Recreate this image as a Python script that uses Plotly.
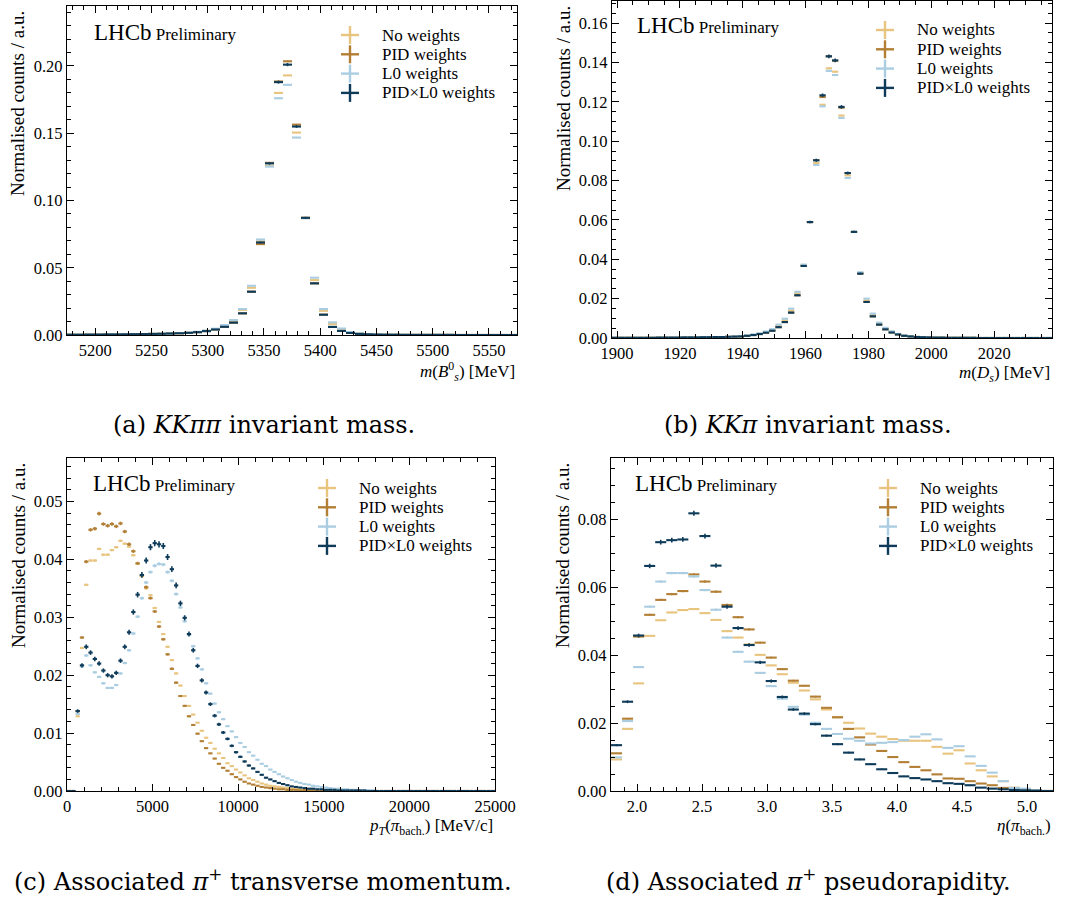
import numpy as np
import plotly.graph_objects as go

W, H = 1070, 897
FONT = "Liberation Serif"

SERIES = ["No weights", "PID weights", "L0 weights", "PID×L0 weights"]
COLOURS = ["#E8C47F", "#B27F35", "#AACDE2", "#0E3B59"]
# effective sample size per weighting, sets the size of the statistical error bars
N_EFF = [1.0e6, 5.0e5, 5.0e5, 1.5e5]

# ---- (a) KKpipi invariant mass, 8 MeV bins ----
A_RANGE = (5175.0, 5575.0)
A_NO = [0.0002, 0.0002, 0.0003, 0.0003, 0.0004, 0.0004, 0.0005, 0.0006, 0.0007, 0.0008,
        0.0009, 0.0011, 0.0013, 0.0017, 0.0022, 0.0031, 0.0044, 0.0068, 0.0104, 0.0186,
        0.0351, 0.0696, 0.1258, 0.1800, 0.1930, 0.1505, 0.0869, 0.0408, 0.0180, 0.0082,
        0.0040, 0.0019, 0.0010, 0.0006, 0.0004, 0.0003, 0.0002, 0.0002, 0.0001, 0.0001,
        0.0001, 0.0001, 0.0001, 0.0000, 0.0000, 0.0000, 0.0000, 0.0000, 0.0000, 0.0000]
A_PID = [0.0002, 0.0002, 0.0003, 0.0003, 0.0004, 0.0004, 0.0005, 0.0006, 0.0007, 0.0008,
         0.0009, 0.0011, 0.0013, 0.0016, 0.0021, 0.0029, 0.0041, 0.0061, 0.0092, 0.0161,
         0.0322, 0.0676, 0.1280, 0.1885, 0.2035, 0.1564, 0.0872, 0.0384, 0.0151, 0.0060,
         0.0030, 0.0015, 0.0008, 0.0005, 0.0003, 0.0002, 0.0002, 0.0001, 0.0001, 0.0001,
         0.0001, 0.0001, 0.0001, 0.0000, 0.0000, 0.0000, 0.0000, 0.0000, 0.0000, 0.0000]
A_L0 = [0.0002, 0.0002, 0.0003, 0.0003, 0.0004, 0.0004, 0.0005, 0.0006, 0.0007, 0.0008,
        0.0009, 0.0011, 0.0014, 0.0018, 0.0024, 0.0033, 0.0047, 0.0074, 0.0111, 0.0193,
        0.0366, 0.0710, 0.1252, 0.1760, 0.1860, 0.1468, 0.0868, 0.0426, 0.0193, 0.0094,
        0.0048, 0.0022, 0.0011, 0.0006, 0.0004, 0.0003, 0.0002, 0.0002, 0.0001, 0.0001,
        0.0001, 0.0001, 0.0001, 0.0000, 0.0000, 0.0000, 0.0000, 0.0000, 0.0000, 0.0000]
A_PIDL0 = [0.0002, 0.0002, 0.0003, 0.0003, 0.0004, 0.0004, 0.0005, 0.0006, 0.0007, 0.0008,
           0.0009, 0.0011, 0.0013, 0.0016, 0.0021, 0.0029, 0.0041, 0.0061, 0.0092, 0.0161,
           0.0322, 0.0688, 0.1276, 0.1880, 0.2010, 0.1550, 0.0871, 0.0384, 0.0151, 0.0060,
           0.0030, 0.0015, 0.0008, 0.0005, 0.0003, 0.0002, 0.0002, 0.0001, 0.0001, 0.0001,
           0.0001, 0.0001, 0.0001, 0.0000, 0.0000, 0.0000, 0.0000, 0.0000, 0.0000, 0.0000]

# ---- (b) KKpi invariant mass, 2 MeV bins ----
B_RANGE = (1898.4, 2038.4)
B_NO = [0.0001, 0.0001, 0.0001, 0.0001, 0.0001, 0.0001, 0.0001, 0.0002, 0.0002, 0.0002,
        0.0002, 0.0003, 0.0003, 0.0003, 0.0004, 0.0004, 0.0005, 0.0005, 0.0006, 0.0007,
        0.0009, 0.0012, 0.0016, 0.0022, 0.0030, 0.0041, 0.0062, 0.0090, 0.0140, 0.0229,
        0.0370, 0.0589, 0.0889, 0.1185, 0.1370, 0.1353, 0.1130, 0.0826, 0.0539, 0.0331,
        0.0191, 0.0117, 0.0073, 0.0048, 0.0031, 0.0019, 0.0012, 0.0009, 0.0006, 0.0004,
        0.0003, 0.0002, 0.0002, 0.0001, 0.0001, 0.0001, 0.0001, 0.0001, 0.0000, 0.0000,
        0.0000, 0.0000, 0.0000, 0.0000, 0.0000, 0.0000, 0.0000, 0.0000, 0.0000, 0.0000]
B_PID = [0.0001, 0.0001, 0.0001, 0.0001, 0.0001, 0.0001, 0.0001, 0.0002, 0.0002, 0.0002,
         0.0002, 0.0003, 0.0003, 0.0003, 0.0004, 0.0004, 0.0005, 0.0005, 0.0006, 0.0007,
         0.0008, 0.0011, 0.0015, 0.0020, 0.0027, 0.0037, 0.0055, 0.0081, 0.0129, 0.0217,
         0.0366, 0.0589, 0.0903, 0.1224, 0.1431, 0.1409, 0.1170, 0.0838, 0.0539, 0.0327,
         0.0183, 0.0110, 0.0068, 0.0044, 0.0028, 0.0018, 0.0011, 0.0008, 0.0005, 0.0004,
         0.0003, 0.0002, 0.0002, 0.0001, 0.0001, 0.0001, 0.0001, 0.0001, 0.0000, 0.0000,
         0.0000, 0.0000, 0.0000, 0.0000, 0.0000, 0.0000, 0.0000, 0.0000, 0.0000, 0.0000]
B_L0 = [0.0001, 0.0001, 0.0001, 0.0001, 0.0001, 0.0001, 0.0001, 0.0002, 0.0002, 0.0002,
        0.0002, 0.0003, 0.0003, 0.0003, 0.0004, 0.0004, 0.0005, 0.0005, 0.0006, 0.0008,
        0.0010, 0.0013, 0.0018, 0.0024, 0.0033, 0.0045, 0.0068, 0.0098, 0.0149, 0.0235,
        0.0373, 0.0589, 0.0879, 0.1177, 0.1357, 0.1336, 0.1118, 0.0813, 0.0539, 0.0334,
        0.0200, 0.0124, 0.0078, 0.0052, 0.0034, 0.0021, 0.0013, 0.0009, 0.0006, 0.0004,
        0.0003, 0.0002, 0.0002, 0.0001, 0.0001, 0.0001, 0.0001, 0.0001, 0.0000, 0.0000,
        0.0000, 0.0000, 0.0000, 0.0000, 0.0000, 0.0000, 0.0000, 0.0000, 0.0000, 0.0000]
B_PIDL0 = [0.0001, 0.0001, 0.0001, 0.0001, 0.0001, 0.0001, 0.0001, 0.0002, 0.0002, 0.0002,
           0.0002, 0.0003, 0.0003, 0.0003, 0.0004, 0.0004, 0.0005, 0.0005, 0.0006, 0.0007,
           0.0008, 0.0011, 0.0015, 0.0020, 0.0027, 0.0037, 0.0055, 0.0081, 0.0129, 0.0217,
           0.0366, 0.0589, 0.0903, 0.1233, 0.1431, 0.1410, 0.1174, 0.0838, 0.0539, 0.0327,
           0.0183, 0.0110, 0.0068, 0.0044, 0.0028, 0.0018, 0.0011, 0.0008, 0.0005, 0.0004,
           0.0003, 0.0002, 0.0002, 0.0001, 0.0001, 0.0001, 0.0001, 0.0001, 0.0000, 0.0000,
           0.0000, 0.0000, 0.0000, 0.0000, 0.0000, 0.0000, 0.0000, 0.0000, 0.0000, 0.0000]

# ---- (c) bachelor pion pT, 250 MeV/c bins ----
C_RANGE = (0.0, 25000.0)
C_NO = [0.0, 0.0, 0.0129, 0.0247, 0.0356, 0.0398, 0.0398, 0.0418, 0.0408, 0.0408,
        0.0416, 0.0421, 0.0432, 0.0427, 0.0422, 0.0407, 0.0393, 0.0372, 0.0350, 0.0338,
        0.0316, 0.0292, 0.0271, 0.0249, 0.0226, 0.0203, 0.0182, 0.0164, 0.0147, 0.0132,
        0.0118, 0.0104, 0.0092, 0.0083, 0.0073, 0.0065, 0.0057, 0.0048, 0.0043, 0.0037,
        0.0032, 0.0027, 0.0022, 0.0019, 0.0016, 0.0013, 0.0011, 0.0009, 0.0008, 0.0007,
        0.0006, 0.0005, 0.0004, 0.0003, 0.0003, 0.0002, 0.0002, 0.0002, 0.0001, 0.0001,
        0.0001, 0.0001, 0.0001, 0.0001, 0.0001, 0.0, 0.0, 0.0, 0.0, 0.0,
        0.0, 0.0, 0.0, 0.0, 0.0, 0.0, 0.0, 0.0, 0.0, 0.0,
        0.0, 0.0, 0.0, 0.0, 0.0, 0.0, 0.0, 0.0, 0.0, 0.0,
        0.0, 0.0, 0.0, 0.0, 0.0, 0.0, 0.0, 0.0, 0.0, 0.0]
C_PID = [0.0, 0.0, 0.0138, 0.0265, 0.0396, 0.0451, 0.0453, 0.0479, 0.0461, 0.0458,
         0.0461, 0.0457, 0.0462, 0.0448, 0.0426, 0.0414, 0.0393, 0.0372, 0.0352, 0.0333,
         0.0310, 0.0284, 0.0262, 0.0236, 0.0211, 0.0187, 0.0164, 0.0147, 0.0129, 0.0114,
         0.0099, 0.0086, 0.0074, 0.0065, 0.0056, 0.0047, 0.0040, 0.0035, 0.0029, 0.0024,
         0.0020, 0.0016, 0.0013, 0.0011, 0.0009, 0.0007, 0.0006, 0.0005, 0.0004, 0.0003,
         0.0003, 0.0002, 0.0002, 0.0002, 0.0001, 0.0001, 0.0001, 0.0001, 0.0, 0.0,
         0.0, 0.0, 0.0, 0.0, 0.0, 0.0, 0.0, 0.0, 0.0, 0.0,
         0.0, 0.0, 0.0, 0.0, 0.0, 0.0, 0.0, 0.0, 0.0, 0.0,
         0.0, 0.0, 0.0, 0.0, 0.0, 0.0, 0.0, 0.0, 0.0, 0.0,
         0.0, 0.0, 0.0, 0.0, 0.0, 0.0, 0.0, 0.0, 0.0, 0.0]
C_L0 = [0.0, 0.0, 0.0133, 0.0215, 0.0234, 0.0217, 0.0205, 0.0197, 0.0186, 0.0178,
        0.0178, 0.0183, 0.0203, 0.0221, 0.0243, 0.0272, 0.0301, 0.0333, 0.0360, 0.0378,
        0.0389, 0.0392, 0.0391, 0.0378, 0.0363, 0.0340, 0.0317, 0.0293, 0.0270, 0.0250,
        0.0229, 0.0210, 0.0186, 0.0168, 0.0151, 0.0136, 0.0124, 0.0112, 0.0103, 0.0093,
        0.0083, 0.0076, 0.0067, 0.0061, 0.0054, 0.0047, 0.0043, 0.0037, 0.0033, 0.0029,
        0.0025, 0.0022, 0.0019, 0.0016, 0.0014, 0.0012, 0.0011, 0.0009, 0.0008, 0.0007,
        0.0006, 0.0005, 0.0004, 0.0004, 0.0003, 0.0003, 0.0002, 0.0002, 0.0001, 0.0001,
        0.0001, 0.0001, 0.0, 0.0, 0.0, 0.0, 0.0, 0.0, 0.0, 0.0,
        0.0, 0.0, 0.0, 0.0, 0.0, 0.0, 0.0, 0.0, 0.0, 0.0,
        0.0, 0.0, 0.0, 0.0, 0.0, 0.0, 0.0, 0.0, 0.0, 0.0]
C_PIDL0 = [0.0, 0.0, 0.0138, 0.0217, 0.0249, 0.0239, 0.0228, 0.0220, 0.0208, 0.0200,
           0.0198, 0.0204, 0.0225, 0.0249, 0.0274, 0.0309, 0.0339, 0.0373, 0.0398, 0.0421,
           0.0428, 0.0426, 0.0423, 0.0404, 0.0383, 0.0355, 0.0324, 0.0299, 0.0271, 0.0243,
           0.0216, 0.0191, 0.0170, 0.0150, 0.0130, 0.0115, 0.0101, 0.0090, 0.0078, 0.0067,
           0.0059, 0.0051, 0.0044, 0.0039, 0.0033, 0.0028, 0.0023, 0.0020, 0.0017, 0.0014,
           0.0012, 0.0010, 0.0008, 0.0007, 0.0006, 0.0005, 0.0004, 0.0004, 0.0003, 0.0003,
           0.0002, 0.0002, 0.0002, 0.0001, 0.0001, 0.0001, 0.0001, 0.0001, 0.0001, 0.0001,
           0.0, 0.0, 0.0, 0.0, 0.0, 0.0, 0.0, 0.0, 0.0, 0.0,
           0.0, 0.0, 0.0, 0.0, 0.0, 0.0, 0.0, 0.0, 0.0, 0.0,
           0.0, 0.0, 0.0, 0.0, 0.0, 0.0, 0.0, 0.0, 0.0, 0.0]

# ---- (d) bachelor pion pseudorapidity, 0.085 bins ----
D_RANGE = (1.8, 5.2)
D_NO = [0.0093, 0.0183, 0.0317, 0.0457, 0.0503, 0.0526, 0.0533, 0.0536, 0.0524, 0.0504,
        0.0471, 0.0452, 0.0432, 0.0401, 0.0370, 0.0344, 0.0319, 0.0296, 0.0270, 0.0240,
        0.0218, 0.0201, 0.0184, 0.0169, 0.0160, 0.0153, 0.0148, 0.0148, 0.0148, 0.0130,
        0.0110, 0.0120, 0.0081, 0.0061, 0.0043, 0.0029, 0.0010, 0.0004, 0.0001, 0.0000]
D_PID = [0.0111, 0.0213, 0.0455, 0.0519, 0.0563, 0.0580, 0.0589, 0.0638, 0.0617, 0.0587,
         0.0548, 0.0512, 0.0476, 0.0437, 0.0393, 0.0359, 0.0325, 0.0310, 0.0278, 0.0245,
         0.0217, 0.0183, 0.0158, 0.0137, 0.0118, 0.0100, 0.0085, 0.0071, 0.0061, 0.0049,
         0.0037, 0.0036, 0.0029, 0.0022, 0.0017, 0.0009, 0.0005, 0.0002, 0.0001, 0.0000]
D_L0 = [0.0099, 0.0206, 0.0365, 0.0543, 0.0617, 0.0642, 0.0642, 0.0632, 0.0592, 0.0534,
        0.0452, 0.0410, 0.0381, 0.0348, 0.0309, 0.0272, 0.0248, 0.0225, 0.0201, 0.0183,
        0.0168, 0.0154, 0.0148, 0.0140, 0.0142, 0.0144, 0.0150, 0.0160, 0.0167, 0.0152,
        0.0127, 0.0132, 0.0102, 0.0074, 0.0054, 0.0029, 0.0009, 0.0007, 0.0002, 0.0000]
D_PIDL0 = [0.0135, 0.0263, 0.0458, 0.0663, 0.0733, 0.0739, 0.0741, 0.0818, 0.0751, 0.0664,
           0.0543, 0.0480, 0.0430, 0.0379, 0.0324, 0.0277, 0.0240, 0.0228, 0.0197, 0.0163,
           0.0138, 0.0113, 0.0093, 0.0079, 0.0064, 0.0053, 0.0043, 0.0038, 0.0034, 0.0029,
           0.0023, 0.0021, 0.0017, 0.0010, 0.0007, 0.0005, 0.0003, 0.0002, 0.0001, 0.0000]


def fx(x):
    return x / W


def fy(y):
    return 1 - y / H


PANELS = [
    dict(ax="", xr=A_RANGE, data=[A_NO, A_PID, A_L0, A_PIDL0],
         dom_x=(67, 517), dom_y=(6, 335), yr=(0, 0.2446),
         xdt=50, xmin=10, ydt=0.05, ymin=0.01, xfmt="d",
         xtitle="<i>m</i>(<i>B</i><sup>0</sup><sub><i>s</i></sub>) [MeV]",
         cap="(a) <i>KKππ</i> invariant mass.", capx=264, capy=425,
         lhcb=(92, 32), leg=(350, 35)),
    dict(ax="2", xr=B_RANGE, data=[B_NO, B_PID, B_L0, B_PIDL0],
         dom_x=(612, 1052), dom_y=(1, 338), yr=(0, 0.1712),
         xdt=20, xmin=5, ydt=0.02, ymin=0.005, xfmt="d",
         xtitle="<i>m</i>(<i>D<sub>s</sub></i>) [MeV]",
         cap="(b) <i>KKπ</i> invariant mass.", capx=808, capy=425,
         lhcb=(635, 25), leg=(885, 30)),
    dict(ax="3", xr=C_RANGE, data=[C_NO, C_PID, C_L0, C_PIDL0],
         dom_x=(67, 495), dom_y=(458, 791), yr=(0, 0.0575),
         xdt=5000, xmin=1000, ydt=0.01, ymin=0.002, xfmt="d",
         xtitle="<i>p<sub>T</sub></i>(<i>π</i><sub>bach.</sub>) [MeV/c]",
         cap="(c) Associated <i>π</i><sup>+</sup> transverse momentum.", capx=263, capy=880,
         lhcb=(91, 483), leg=(327, 488)),
    dict(ax="4", xr=D_RANGE, data=[D_NO, D_PID, D_L0, D_PIDL0],
         dom_x=(611, 1053), dom_y=(458, 791), yr=(0, 0.0981),
         xdt=0.5, xmin=0.1, ydt=0.02, ymin=0.005, xfmt=".1f",
         xtitle="<i>η</i>(<i>π</i><sub>bach.</sub>)",
         cap="(d) Associated <i>π</i><sup>+</sup> pseudorapidity.", capx=808, capy=880,
         lhcb=(633, 483), leg=(888, 488)),
]

LEG_STEP = 19.3   # vertical spacing of legend rows
LEG_ARM = 9       # half length of the legend error-bar cross

fig = go.Figure()
layout = dict(width=W, height=H, margin=dict(l=0, r=0, t=0, b=0, autoexpand=False),
              paper_bgcolor="white", plot_bgcolor="white",
              font=dict(family=FONT, size=17, color="black"),
              showlegend=False)
annotations = []
shapes = []

for p in PANELS:
    xa, ya = "x" + p["ax"], "y" + p["ax"]
    lo, hi = p["xr"]
    nb = len(p["data"][0])
    w = (hi - lo) / nb
    centres = lo + (np.arange(nb) + 0.5) * w
    for name, col, vals, n in zip(SERIES, COLOURS, p["data"], N_EFF):
        v = np.asarray(vals, dtype=float)
        err = np.sqrt(v / n)
        fig.add_trace(go.Scatter(
            x=centres, y=v, mode="markers", xaxis=xa, yaxis=ya, name=name,
            marker=dict(size=0, color=col, opacity=0),
            error_x=dict(type="constant", value=w / 2, color=col, thickness=2.1, width=0),
            error_y=dict(type="data", array=err, color=col, thickness=1.6, width=0),
            hoverinfo="skip"))

    axis_common = dict(showline=True, linecolor="black", linewidth=1.3, mirror="allticks",
                       ticks="inside", ticklen=7, tickwidth=1.2, tickcolor="black",
                       showgrid=False, zeroline=False, automargin=False,
                       tickfont=dict(family=FONT, size=16.5))
    layout["xaxis" + p["ax"]] = dict(
        axis_common, domain=[fx(p["dom_x"][0]), fx(p["dom_x"][1])],
        range=list(p["xr"]), anchor=ya,
        dtick=p["xdt"], tick0=0, tickformat=p["xfmt"],
        minor=dict(dtick=p["xmin"], tick0=0, ticks="inside", ticklen=4,
                   tickwidth=1, tickcolor="black"))
    layout["yaxis" + p["ax"]] = dict(
        axis_common, domain=[fy(p["dom_y"][1]), fy(p["dom_y"][0])],
        range=list(p["yr"]), anchor=xa,
        dtick=p["ydt"], tick0=0, tickformat=".2f",
        minor=dict(dtick=p["ymin"], tick0=0, ticks="inside", ticklen=4,
                   tickwidth=1, tickcolor="black"))

    # legend: error-bar crosses with labels
    sx, sy = p["leg"]
    for j, (name, col) in enumerate(zip(SERIES, COLOURS)):
        cy = sy + j * LEG_STEP
        shapes.append(dict(type="line", xref="paper", yref="paper",
                           x0=fx(sx - LEG_ARM), x1=fx(sx + LEG_ARM), y0=fy(cy), y1=fy(cy),
                           line=dict(color=col, width=2.4)))
        shapes.append(dict(type="line", xref="paper", yref="paper",
                           x0=fx(sx), x1=fx(sx), y0=fy(cy - LEG_ARM), y1=fy(cy + LEG_ARM),
                           line=dict(color=col, width=2.4)))
        annotations.append(dict(text=name, x=fx(sx + 30), y=fy(cy), xref="paper",
                                yref="paper", xanchor="left", yanchor="middle",
                                showarrow=False, font=dict(family=FONT, size=17)))

    x0, x1 = p["dom_x"]
    y0, y1 = p["dom_y"]
    # x-axis title, right aligned
    annotations.append(dict(text=p["xtitle"], x=fx(x1), y=fy(y1 + 36),
                            xref="paper", yref="paper", xanchor="right", yanchor="middle",
                            showarrow=False, font=dict(family=FONT, size=17)))
    # y-axis title, top aligned
    annotations.append(dict(text="Normalised counts / a.u.", x=fx(x0 - 49),
                            y=fy(y0 + 98), xref="paper", yref="paper",
                            xanchor="center", yanchor="middle", textangle=-90,
                            showarrow=False, font=dict(family=FONT, size=19)))
    # experiment label
    lx0, ly0 = p["lhcb"]
    annotations.append(dict(text="LHCb<span style='font-size:17px'> Preliminary</span>",
                            x=fx(lx0), y=fy(ly0), xref="paper", yref="paper",
                            xanchor="left", yanchor="middle", showarrow=False,
                            font=dict(family=FONT, size=23)))
    # sub-figure caption
    annotations.append(dict(text=p["cap"], x=fx(p["capx"]), y=fy(p["capy"]),
                            xref="paper", yref="paper", xanchor="center", yanchor="middle",
                            showarrow=False, font=dict(family="DejaVu Serif", size=24)))

layout["annotations"] = annotations
layout["shapes"] = shapes
fig.update_layout(**layout)
fig.write_html("out.html")
